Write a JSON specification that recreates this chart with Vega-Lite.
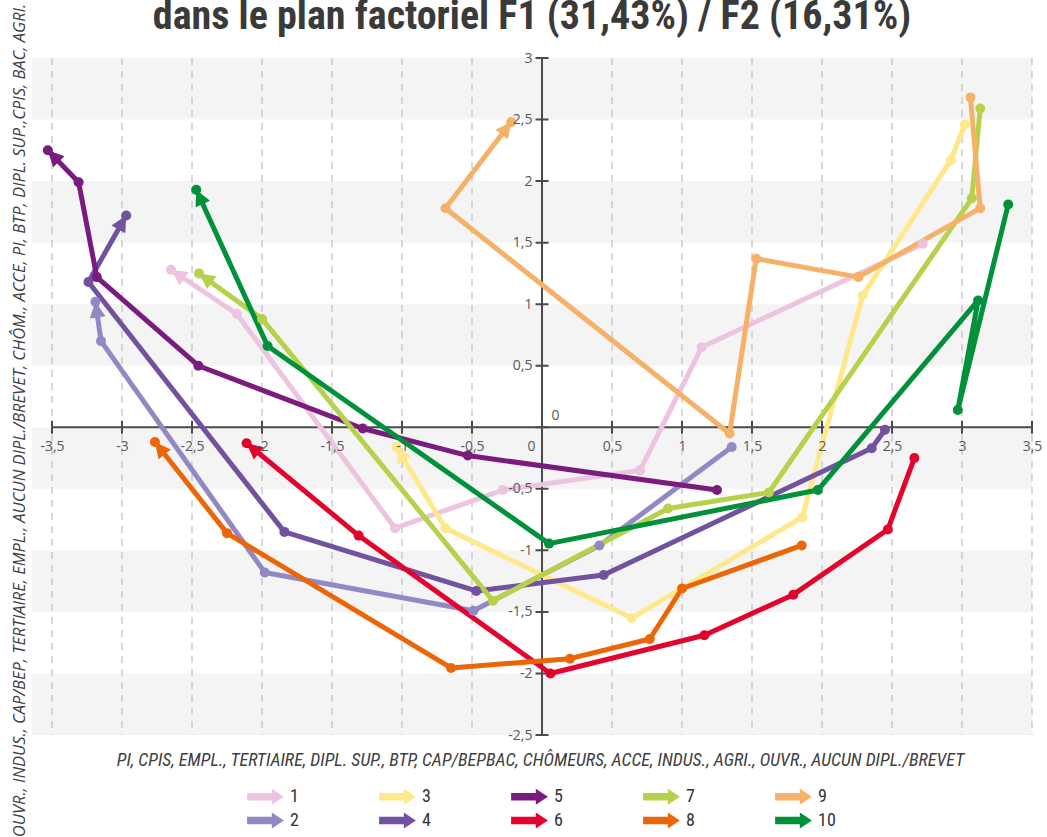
{
  "$schema": "https://vega.github.io/schema/vega-lite/v6.json",
  "width": 1000,
  "height": 677,
  "autosize": "none",
  "padding": {"left": 32, "top": 58, "right": 15, "bottom": 102},
  "background": "white",
  "title": {
    "text": "dans le plan factoriel F1 (31,43%) / F2 (16,31%)",
    "font": "Liberation Sans Narrow, Roboto Condensed, Open Sans",
    "fontSize": 40,
    "fontWeight": "bold",
    "color": "#3a3a3a",
    "anchor": "middle",
    "frame": "group",
    "baseline": "alphabetic",
    "offset": -66
  },
  "config": {
    "view": {"stroke": null},
    "axis": {"zindex": 1}
  },
  "datasets": {
    "pts": [
      {"s": "1", "i": 0, "x": 2.72, "y": 1.49},
      {"s": "1", "i": 1, "x": 1.14, "y": 0.65},
      {"s": "1", "i": 2, "x": 0.70, "y": -0.35},
      {"s": "1", "i": 3, "x": -0.28, "y": -0.51},
      {"s": "1", "i": 4, "x": -1.05, "y": -0.82},
      {"s": "1", "i": 5, "x": -2.18, "y": 0.92},
      {"s": "1", "i": 6, "x": -2.65, "y": 1.28},
      {"s": "2", "i": 0, "x": 1.355, "y": -0.16},
      {"s": "2", "i": 1, "x": 0.41, "y": -0.96},
      {"s": "2", "i": 2, "x": -0.49, "y": -1.49},
      {"s": "2", "i": 3, "x": -1.98, "y": -1.18},
      {"s": "2", "i": 4, "x": -3.15, "y": 0.70},
      {"s": "2", "i": 5, "x": -3.19, "y": 1.02},
      {"s": "3", "i": 0, "x": 3.02, "y": 2.46},
      {"s": "3", "i": 1, "x": 2.92, "y": 2.17},
      {"s": "3", "i": 2, "x": 2.29, "y": 1.07},
      {"s": "3", "i": 3, "x": 1.86, "y": -0.73},
      {"s": "3", "i": 4, "x": 0.64, "y": -1.55},
      {"s": "3", "i": 5, "x": -0.69, "y": -0.82},
      {"s": "3", "i": 6, "x": -1.04, "y": -0.16},
      {"s": "4", "i": 0, "x": 2.45, "y": -0.02},
      {"s": "4", "i": 1, "x": 2.355, "y": -0.17},
      {"s": "4", "i": 2, "x": 0.44, "y": -1.20},
      {"s": "4", "i": 3, "x": -0.47, "y": -1.33},
      {"s": "4", "i": 4, "x": -1.84, "y": -0.85},
      {"s": "4", "i": 5, "x": -3.24, "y": 1.18},
      {"s": "4", "i": 6, "x": -2.97, "y": 1.72},
      {"s": "5", "i": 0, "x": 1.25, "y": -0.51},
      {"s": "5", "i": 1, "x": -0.53, "y": -0.23},
      {"s": "5", "i": 2, "x": -1.28, "y": -0.01},
      {"s": "5", "i": 3, "x": -2.455, "y": 0.50},
      {"s": "5", "i": 4, "x": -3.18, "y": 1.22},
      {"s": "5", "i": 5, "x": -3.31, "y": 1.99},
      {"s": "5", "i": 6, "x": -3.53, "y": 2.25},
      {"s": "6", "i": 0, "x": 2.66, "y": -0.25},
      {"s": "6", "i": 1, "x": 2.47, "y": -0.83},
      {"s": "6", "i": 2, "x": 1.795, "y": -1.36},
      {"s": "6", "i": 3, "x": 1.16, "y": -1.69},
      {"s": "6", "i": 4, "x": 0.06, "y": -2.0},
      {"s": "6", "i": 5, "x": -1.31, "y": -0.88},
      {"s": "6", "i": 6, "x": -2.11, "y": -0.13},
      {"s": "7", "i": 0, "x": 3.13, "y": 2.59},
      {"s": "7", "i": 1, "x": 3.07, "y": 1.86},
      {"s": "7", "i": 2, "x": 1.62, "y": -0.53},
      {"s": "7", "i": 3, "x": 0.90, "y": -0.66},
      {"s": "7", "i": 4, "x": -0.35, "y": -1.41},
      {"s": "7", "i": 5, "x": -2.0, "y": 0.88},
      {"s": "7", "i": 6, "x": -2.45, "y": 1.25},
      {"s": "8", "i": 0, "x": 1.855, "y": -0.96},
      {"s": "8", "i": 1, "x": 1.0, "y": -1.31},
      {"s": "8", "i": 2, "x": 0.77, "y": -1.72},
      {"s": "8", "i": 3, "x": 0.20, "y": -1.88},
      {"s": "8", "i": 4, "x": -0.65, "y": -1.955},
      {"s": "8", "i": 5, "x": -2.25, "y": -0.86},
      {"s": "8", "i": 6, "x": -2.765, "y": -0.12},
      {"s": "9", "i": 0, "x": 3.06, "y": 2.68},
      {"s": "9", "i": 1, "x": 3.13, "y": 1.78},
      {"s": "9", "i": 2, "x": 2.26, "y": 1.22},
      {"s": "9", "i": 3, "x": 1.53, "y": 1.37},
      {"s": "9", "i": 4, "x": 1.34, "y": -0.05},
      {"s": "9", "i": 5, "x": -0.69, "y": 1.78},
      {"s": "9", "i": 6, "x": -0.22, "y": 2.48},
      {"s": "10", "i": 0, "x": 3.33, "y": 1.81},
      {"s": "10", "i": 1, "x": 2.97, "y": 0.14},
      {"s": "10", "i": 2, "x": 3.115, "y": 1.03},
      {"s": "10", "i": 3, "x": 1.97, "y": -0.51},
      {"s": "10", "i": 4, "x": 0.05, "y": -0.945},
      {"s": "10", "i": 5, "x": -1.96, "y": 0.66},
      {"s": "10", "i": 6, "x": -2.47, "y": 1.93}
    ],
    "bands": [
      {"y": 2.5, "y2": 3},
      {"y": 1.5, "y2": 2},
      {"y": 0.5, "y2": 1},
      {"y": -0.5, "y2": 0},
      {"y": -1.5, "y2": -1},
      {"y": -2.5, "y2": -2}
    ],
    "xt": [
      {"x": -3.5}, {"x": -3}, {"x": -2.5}, {"x": -2}, {"x": -1.5}, {"x": -1}, {"x": -0.5},
      {"x": 0}, {"x": 0.5}, {"x": 1}, {"x": 1.5}, {"x": 2}, {"x": 2.5}, {"x": 3}, {"x": 3.5}
    ],
    "yt": [
      {"y": -2.5}, {"y": -2}, {"y": -1.5}, {"y": -1}, {"y": -0.5}, {"y": 0},
      {"y": 0.5}, {"y": 1}, {"y": 1.5}, {"y": 2}, {"y": 2.5}, {"y": 3}
    ]
  },
  "layer": [
    {
      "data": {"name": "bands"},
      "mark": {"type": "rect", "color": "#f4f4f4"},
      "encoding": {
        "x": {"datum": -3.643, "type": "quantitative"},
        "x2": {"datum": 3.5},
        "y": {"field": "y", "type": "quantitative"},
        "y2": {"field": "y2"}
      }
    },
    {
      "data": {"name": "xt"},
      "mark": {"type": "rule", "color": "#c4c4c4", "strokeWidth": 1.3, "strokeDash": [7, 6]},
      "encoding": {
        "x": {"field": "x", "type": "quantitative"}
      }
    },
    {
      "data": {"values": [{}]},
      "mark": {"type": "rule", "color": "#4a4a4a", "strokeWidth": 2},
      "encoding": {
        "x": {"datum": -3.5, "type": "quantitative"},
        "x2": {"datum": 3.5},
        "y": {"datum": 0, "type": "quantitative"}
      }
    },
    {
      "data": {"values": [{}]},
      "mark": {"type": "rule", "color": "#4a4a4a", "strokeWidth": 2},
      "encoding": {
        "y": {"datum": -2.5, "type": "quantitative"},
        "y2": {"datum": 3},
        "x": {"datum": 0, "type": "quantitative"}
      }
    },
    {
      "data": {"name": "xt"},
      "mark": {"type": "tick", "orient": "vertical", "color": "#4a4a4a", "size": 13, "thickness": 2, "opacity": 1},
      "encoding": {
        "x": {"field": "x", "type": "quantitative"},
        "y": {"datum": 0, "type": "quantitative"}
      }
    },
    {
      "data": {"name": "yt"},
      "mark": {"type": "tick", "orient": "horizontal", "color": "#4a4a4a", "size": 13, "thickness": 2, "opacity": 1},
      "encoding": {
        "y": {"field": "y", "type": "quantitative"},
        "x": {"datum": 0, "type": "quantitative"}
      }
    },
    {
      "data": {"name": "pts"},
      "mark": {"type": "line", "strokeWidth": 5, "strokeJoin": "round", "strokeCap": "round"},
      "encoding": {
        "x": {
          "field": "x",
          "type": "quantitative",
          "scale": {"domain": [-3.643, 3.5], "nice": false, "zero": false},
          "axis": {
            "zindex": 1,
            "values": [-3.5, -3, -2.5, -2, -1.5, -1, -0.5, 0, 0.5, 1, 1.5, 2, 2.5, 3, 3.5],
            "offset": -308,
            "domain": false,
            "ticks": false,
            "grid": false,
            "labelExpr": "replace(datum.value + '', '.', ',')",
            "labelFont": "Open Sans",
            "labelFontSize": 14,
            "labelColor": "#595959",
            "labelPadding": 12,
            "labelOffset": {"condition": {"test": "datum.value === 0", "value": -11}, "value": 0},
            "labelOverlap": false,
            "labelFlush": false,
            "title": "PI, CPIS, EMPL., TERTIAIRE, DIPL. SUP., BTP, CAP/BEPBAC, CHÔMEURS, ACCE, INDUS., AGRI., OUVR., AUCUN DIPL./BREVET",
            "titleFont": "Liberation Sans Narrow, Roboto Condensed, Open Sans",
            "titleFontSize": 18,
            "titleFontStyle": "italic",
            "titleFontWeight": "normal",
            "titleColor": "#404040",
            "titleX": 508,
            "titleY": 324,
            "titleAlign": "center",
            "titleBaseline": "top"
          }
        },
        "y": {
          "field": "y",
          "type": "quantitative",
          "scale": {"domain": [-2.5, 3], "nice": false, "zero": false},
          "axis": {
            "zindex": 1,
            "values": [-2.5, -2, -1.5, -1, -0.5, 0, 0.5, 1, 1.5, 2, 2.5, 3],
            "offset": -510,
            "domain": false,
            "ticks": false,
            "grid": false,
            "labelExpr": "replace(datum.value + '', '.', ',')",
            "labelFont": "Open Sans",
            "labelFontSize": 14,
            "labelColor": "#595959",
            "labelPadding": {"condition": {"test": "datum.value === 0", "value": -9}, "value": 10},
            "labelAlign": {"condition": {"test": "datum.value === 0", "value": "left"}, "value": "right"},
            "labelOffset": {"condition": {"test": "datum.value === 0", "value": -12}, "value": 0},
            "labelOverlap": false,
            "labelFlush": false,
            "title": "OUVR., INDUS., CAP/BEP, TERTIAIRE, EMPL., AUCUN DIPL./BREVET, CHÔM., ACCE, PI, BTP, DIPL. SUP.,CPIS, BAC, AGRI.",
            "titleFont": "Open Sans",
            "titleFontSize": 16.5,
            "titleFontStyle": "italic",
            "titleFontWeight": "normal",
            "titleColor": "#404040",
            "titleX": -523,
            "titleY": 362,
            "titleAngle": -90,
            "titleAlign": "center",
            "titleBaseline": "middle"
          }
        },
        "color": {
          "field": "s",
          "type": "nominal",
          "scale": {
            "domain": ["1", "3", "5", "7", "9", "2", "4", "6", "8", "10"],
            "range": ["#ecc4df", "#fee88a", "#7a1c7e", "#b6d14b", "#f6b168", "#9188c4", "#72519e", "#e3032d", "#ec6608", "#00913a"]
          },
          "legend": {
            "orient": "none",
            "legendX": 222,
            "legendY": 727,
            "direction": "horizontal",
            "columns": 5,
            "title": null,
            "padding": 0,
            "symbolType": "M-1.6,-0.33L0.55,-0.33L0.55,-0.7L1.6,0L0.55,0.7L0.55,0.33L-1.6,0.33Z",
            "symbolSize": 529,
            "symbolStrokeWidth": 0,
            "symbolOpacity": 1,
            "labelFont": "Liberation Sans Narrow, Roboto Condensed, Open Sans",
            "labelFontSize": 18,
            "labelColor": "#333333",
            "labelOffset": 13,
            "columnPadding": 80,
            "rowPadding": 3,
            "encode": {
              "symbols": {
                "update": {
                  "fill": {"scale": "color", "field": "value"},
                  "stroke": {"value": "transparent"},
                  "opacity": {"value": 1}
                }
              }
            }
          }
        },
        "order": {"field": "i", "type": "quantitative"}
      }
    },
    {
      "data": {"name": "pts"},
      "mark": {"type": "point", "shape": "circle", "filled": true, "size": 100, "opacity": 1},
      "encoding": {
        "x": {"field": "x", "type": "quantitative"},
        "y": {"field": "y", "type": "quantitative"},
        "color": {"field": "s", "type": "nominal"}
      }
    },
    {
      "data": {"name": "pts"},
      "transform": [
        {
          "window": [
            {"op": "lag", "field": "x", "as": "px"},
            {"op": "lag", "field": "y", "as": "py"}
          ],
          "groupby": ["s"],
          "sort": [{"field": "i", "order": "ascending"}]
        },
        {"joinaggregate": [{"op": "max", "field": "i", "as": "mi"}], "groupby": ["s"]},
        {"filter": "datum.i === datum.mi"},
        {"calculate": "atan2((datum.x - datum.px) * 140, (datum.y - datum.py) * 123.1) * 180 / PI", "as": "ang"}
      ],
      "mark": {"type": "point", "shape": "M0,0L0.5,1L-0.5,1Z", "filled": true, "size": 1000, "opacity": 1},
      "encoding": {
        "x": {"field": "x", "type": "quantitative"},
        "y": {"field": "y", "type": "quantitative"},
        "color": {"field": "s", "type": "nominal"},
        "angle": {"field": "ang", "type": "quantitative", "scale": null}
      }
    }
  ]
}
